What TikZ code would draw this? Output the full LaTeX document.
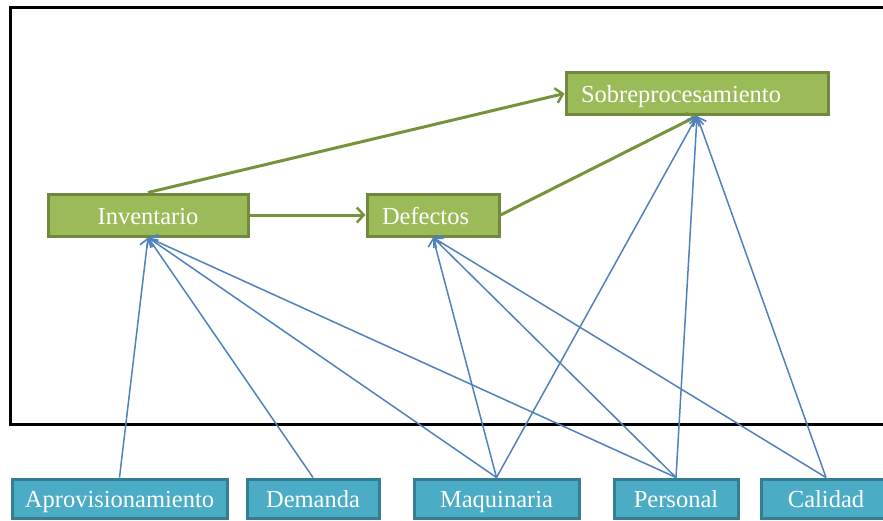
\documentclass[tikz,border=0pt]{standalone}
\usepackage{fontspec}
\setmainfont{Liberation Serif}
\usetikzlibrary{arrows.meta}
\definecolor{gfill}{HTML}{9BBB59}
\definecolor{gline}{HTML}{71893F}
\definecolor{garrow}{HTML}{76923C}
\definecolor{bfill}{HTML}{4BACC6}
\definecolor{bline}{HTML}{357D91}
\definecolor{barrow}{HTML}{4F81BD}
\tikzset{
  gbox/.style={draw=gline, fill=gfill, line width=3pt, text=white, inner sep=0pt,
    text height=18pt, text depth=0pt,
    minimum height=42pt, font=\fontsize{24.5}{24.5}\selectfont},
  bbox/.style={draw=bline, fill=bfill, line width=3pt, text=white, inner sep=0pt,
    text height=17pt, text depth=0pt,
    minimum height=39pt, font=\fontsize{24.5}{24.5}\selectfont},
  garr/.style={draw=garrow, line width=3pt, -{Straight Barb[length=7pt,width=15pt,line width=2.5pt]}},
  barr/.style={draw=barrow, line width=1.5pt, -{Straight Barb[length=7pt,width=14pt,line width=1.6pt]}},
}
\begin{document}
\begin{tikzpicture}[x=1pt,y=-1pt]
\useasboundingbox (0,0) rectangle (883,520);
\clip (0,0) rectangle (883,520);
\draw[line width=3pt] (10,7) rectangle (900,424);
% green nodes
\node[gbox, minimum width=200pt] (inv) at (148,215) {Inventario};
\node[gbox, text width=102pt, inner xsep=15pt, align=left] (def) at (433,215) {Defectos};
\node[gbox, text width=232pt, inner xsep=15pt, align=left] (sob) at (697,93.5) {Sobreprocesamiento};
% bottom nodes
\node[bbox, minimum width=215pt] (apr) at (119.5,498.5) {Aprovisionamiento};
\node[bbox, minimum width=132pt] (dem) at (313,498.5) {Demanda};
\node[bbox, minimum width=165pt] (maq) at (496.5,498.5) {Maquinaria};
\node[bbox, minimum width=124pt] (per) at (676,498.5) {Personal};
\node[bbox, minimum width=130pt] (cal) at (826,498.5) {Calidad};
% green arrows
\draw[garr] (inv.north) -- (sob.west);
\draw[garr] (inv.east) -- (def.west);
\draw[garr] (def.east) -- (sob.south);
% blue arrows
\draw[barr] (apr.north) -- (inv.south);
\draw[barr] (dem.north) -- (inv.south);
\draw[barr] (maq.north) -- (inv.south);
\draw[barr] (per.north) -- (inv.south);
\draw[barr] (maq.north) -- (def.south);
\draw[barr] (per.north) -- (def.south);
\draw[barr] (cal.north) -- (def.south);
\draw[barr] (maq.north) -- (sob.south);
\draw[barr] (per.north) -- (sob.south);
\draw[barr] (cal.north) -- (sob.south);
\end{tikzpicture}
\end{document}
